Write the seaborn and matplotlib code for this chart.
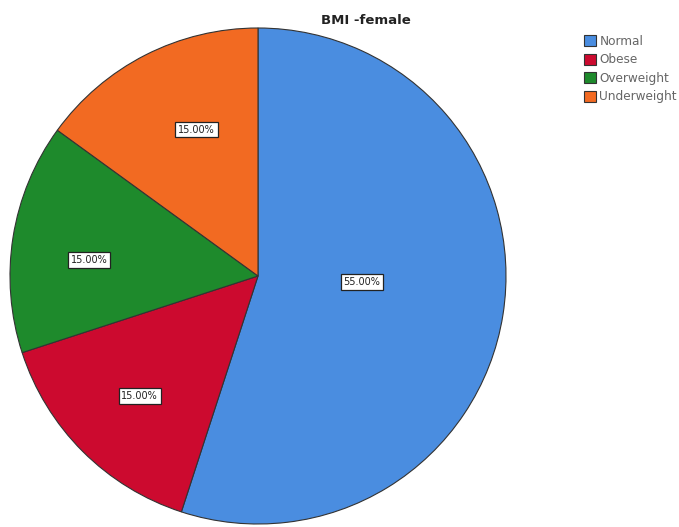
import numpy as np
import matplotlib
matplotlib.use("Agg")
import matplotlib.pyplot as plt
import seaborn as sns

categories = ["Normal", "Obese", "Overweight", "Underweight"]
percent = [55.0, 15.0, 15.0, 15.0]
colors = ["#4A8DE0", "#CC0A2F", "#1E8A2C", "#F26A22"]

sns.set_theme(style="white")
plt.rcParams["font.family"] = ["DejaVu Sans"]
palette = sns.color_palette(colors)

fig = plt.figure(figsize=(6.79, 5.27), dpi=100)
fig.patch.set_facecolor("white")
W, H = 679, 527
cx, cy, r = 258, 276, 248
ax = fig.add_axes([(cx - r) / W, (H - cy - r) / H, 2 * r / W, 2 * r / H])

wedges, _ = ax.pie(percent, colors=palette, startangle=90, counterclock=False,
                   radius=1.0,
                   wedgeprops=dict(edgecolor="#333333", linewidth=0.8))
ax.set_xlim(-1, 1)
ax.set_ylim(-1, 1)
ax.set_aspect("equal")
ax.axis("off")

# value labels: (distance from centre, angle in degrees) for each slice
label_place = [(0.42, -3.3), (0.68, 225.5), (0.684, 174.6), (0.64, 112.7)]
for p, (d, a) in zip(percent, label_place):
    ang = np.deg2rad(a)
    ax.text(d * np.cos(ang), d * np.sin(ang), f"{p:.2f}%", ha="center", va="center",
            fontsize=7, color="#222222",
            bbox=dict(boxstyle="square,pad=0.3", facecolor="white",
                      edgecolor="#222222", linewidth=0.9))

fig.text(366 / W, 1 - 20 / H, "BMI -female", ha="center", va="center",
         fontsize=9.5, fontweight="bold", color="#222222")

# legend in the top-right corner
leg = fig.legend(wedges, categories, loc="upper right",
                 bbox_to_anchor=(677 / W, 1 - 35 / H), frameon=False,
                 fontsize=8.7, handlelength=1.05, handleheight=1.05,
                 handletextpad=0.25, labelspacing=0.45, borderpad=0,
                 borderaxespad=0)
for t in leg.get_texts():
    t.set_color("#666666")

fig.savefig("out.png", dpi=100, facecolor="white")
